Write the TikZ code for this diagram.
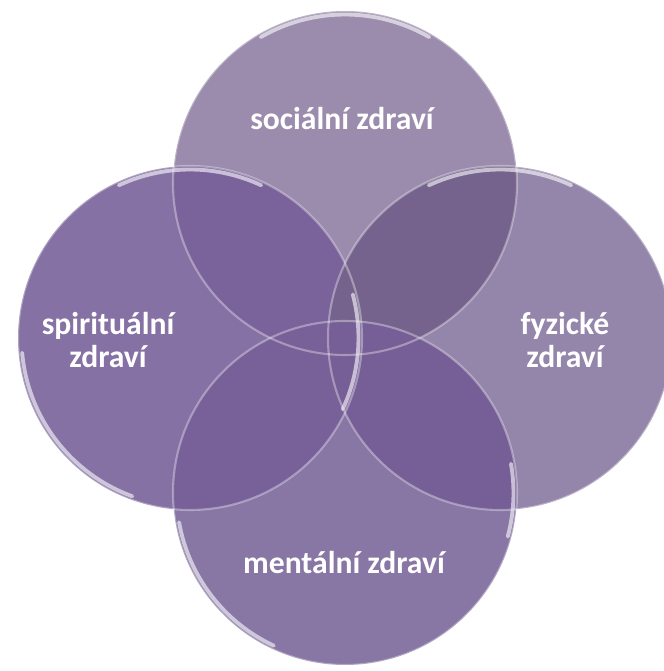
\documentclass[tikz,border=0pt]{standalone}
\usepackage{fontspec}
\setmainfont{Carlito}
\usetikzlibrary{math}
\definecolor{socvio}{RGB}{155,140,174}
\definecolor{spirvio}{RGB}{134,113,164}
\definecolor{fyzvio}{RGB}{148,133,170}
\definecolor{mentvio}{RGB}{136,118,165}
\definecolor{socspir}{RGB}{122,98,155}
\definecolor{socfyz}{RGB}{117,99,141}
\definecolor{spirment}{RGB}{120,96,153}
\definecolor{fyzment}{RGB}{118,94,150}

\tikzset{
label/.style={text=white, font=\bfseries\fontsize{18}{19}\selectfont, align=center},
rim/.style={draw=white, draw opacity=0.35, line width=1.2},
gloss/.style={draw=white, draw opacity=0.6, line width=2.2, line cap=round}
}

\begin{document}
\begin{tikzpicture}[scale=1]
\tikzmath{
\d=3.1;
\r=3.44;
\g=\r-0.07;
}
\useasboundingbox (0,0) rectangle (13.28,13.42);

\coordinate (S) at (6.9,6.66+\d);
\coordinate (L) at (6.9-\d,6.66);
\coordinate (F) at (6.9+\d,6.66);
\coordinate (Z) at (6.9,6.66-\d);

% the four discs
\fill[color=socvio] (S) circle (\r);
\fill[color=spirvio] (L) circle (\r);
\fill[color=fyzvio] (F) circle (\r);
\fill[color=mentvio] (Z) circle (\r);

% darker lenses where two discs meet
\begin{scope}
\clip (S) circle (\r);
\fill[color=socspir] (L) circle (\r);
\fill[color=socfyz] (F) circle (\r);
\end{scope}
\begin{scope}
\clip (Z) circle (\r);
\fill[color=spirment] (L) circle (\r);
\fill[color=fyzment] (F) circle (\r);
\end{scope}

% glassy rims
\draw[rim] (S) circle (\r);
\draw[rim] (L) circle (\r);
\draw[rim] (F) circle (\r);
\draw[rim] (Z) circle (\r);
\draw[gloss] (S) ++(120:\g) arc (120:60:\g);
\draw[gloss] (L) ++(185:\g) arc (185:250:\g);
\draw[gloss] (L) ++(115:\g) arc (115:65:\g);
\draw[gloss] (L) ++(15:\g) arc (15:-25:\g);
\draw[gloss] (F) ++(115:\g) arc (115:65:\g);
\draw[gloss] (Z) ++(190:\g) arc (190:245:\g);
\draw[gloss] (Z) ++(10:\g) arc (10:-15:\g);

\node[label] (social) at (6.84,11.05) {sociální zdraví};
\node[label] (spirit) at (2.16,6.62) {spirituální\\zdraví};
\node[label] (fyzic) at (11.3,6.62) {fyzické\\zdraví};
\node[label] (mental) at (6.88,2.16) {mentální zdraví};

\end{tikzpicture}
\end{document}
